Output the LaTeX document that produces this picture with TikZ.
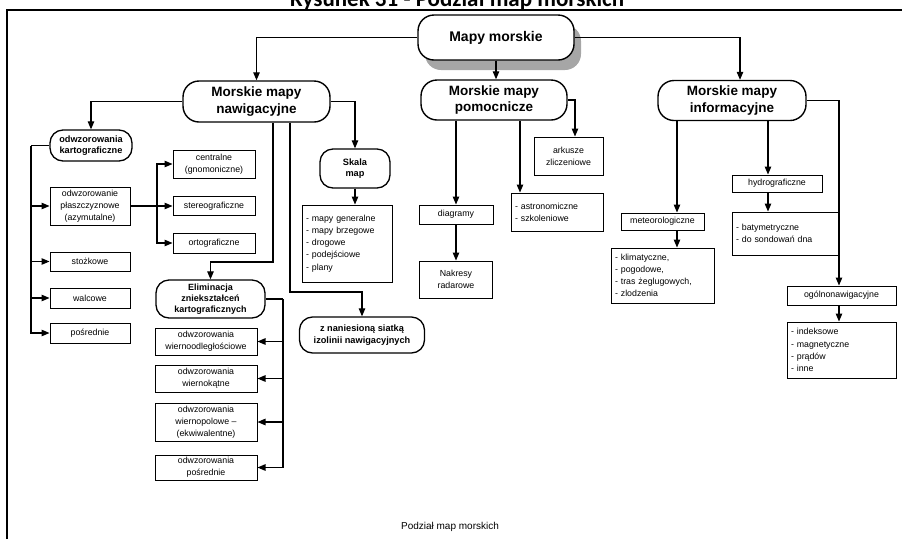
\documentclass[tikz,border=0pt]{standalone}
\usepackage{fontspec}
\setmainfont{Liberation Sans}
\newfontfamily\titlefont{Carlito}
\usetikzlibrary{arrows.meta,shadows}
\tikzset{
  box/.style 2 args={draw, line width=1pt, minimum width=#1, minimum height=#2, inner sep=1pt, align=center, font=\fontsize{8.8}{12}\selectfont},
  lbox/.style 2 args={draw, line width=1pt, text width=#1, minimum height=#2, inner xsep=4pt, inner ysep=1pt, align=left, font=\fontsize{8.8}{12.2}\selectfont},
  rbox/.style 2 args={draw, line width=1.3pt, rounded corners=13pt, minimum width=#1, minimum height=#2, inner sep=1pt, align=center, font=\bfseries\fontsize{9.2}{11.5}\selectfont},
  mainbox/.style 2 args={draw, fill=white, line width=1.4pt, rounded corners=16pt, minimum width=#1, minimum height=#2, inner sep=1pt, align=center, font=\bfseries\fontsize{13.5}{16.5}\selectfont},
  arr/.style={line width=1.1pt, -{Triangle[length=8pt,width=6.5pt]}},
  con/.style={line width=1.1pt},
}
\begin{document}
\begin{tikzpicture}[x=1pt, y=-1pt]
\useasboundingbox (0,0) rectangle (902,539);
\node[anchor=base, font=\titlefont\bfseries\fontsize{23}{26}\selectfont] (title) at (457,6){Rysunek 31 - Podział map morskich};
\draw[line width=2pt] (7,539) -- (7,10) -- (902,10);
\node[mainbox={156}{45}, font=\bfseries\fontsize{14}{17}\selectfont, drop shadow={shadow xshift=7pt, shadow yshift=-10pt, fill=gray!70, opacity=1}] (mapy) at (496,37.5){Mapy morskie};
\node[mainbox={147}{41}] (naw) at (256.5,101.5){Morskie mapy\\nawigacyjne};
\node[mainbox={146}{40}] (pom) at (494,100){Morskie mapy\\pomocnicze};
\node[mainbox={148}{40}] (inf) at (732,100.5){Morskie mapy\\informacyjne};
\draw[arr](mapy.west) -| (naw.north);
\draw[arr](mapy.south) -- (mapy.south |- pom.north);
\draw[arr](mapy.east) -| ([xshift=8pt]inf.north);

\node[rbox={82}{31}] (kart) at (91,145.5){odwzorowania\\kartograficzne};
\node[box={80}{38}] (plasz) at (90,206){odwzorowanie\\płaszczyznowe\\(azymutalne)};
\node[box={80}{19}] (stoz) at (90,261.5){stożkowe};
\node[box={80}{20}] (walc) at (90,298){walcowe};
\node[box={80}{20}] (posr) at (90,333){pośrednie};
\draw[arr](naw.west) -| (kart.north);
\coordinate (kb) at (31,145.5);
\draw[con](kart.west) -- (kb);
\draw[arr](kb) |- (posr.west);
\foreach \n in {plasz,stoz,walc}
  \draw[arr](kb |- \n.west) -- (\n.west);

\node[box={82}{28}] (cent) at (214,164){centralne\\(gnomoniczne)};
\node[box={82}{19}] (ster) at (214,206){stereograficzne};
\node[box={82}{20}] (orto) at (214,243){ortograficzne};
\coordinate (pb) at (157,206);
\draw[con](plasz.east) -- (pb);
\draw[arr](pb) |- (cent.west);
\draw[arr](pb) -- (ster.west);
\draw[arr](pb) |- (orto.west);

\node[rbox={109}{38}, font=\bfseries\fontsize{9}{11}\selectfont] (elim) at (210.5,299){Eliminacja\\zniekształceń\\kartograficznych};
\coordinate (e1) at (273,262);
\draw[arr](naw.south -| e1) -- (e1) -| (elim.north);
\node[box={102}{27}] (wodl) at (206,341.5){odwzorowania\\wiernoodległościowe};
\node[box={102}{27}] (wkat) at (206,378.5){odwzorowania\\wiernokątne};
\node[box={102}{38}] (wpol) at (206,422){odwzorowania\\wiernopolowe –\\(ekwiwalentne)};
\node[box={102}{25}] (wpos) at (206,467.5){odwzorowania\\pośrednie};
\coordinate (eb) at (283,299);
\draw[con](elim.east) -- (eb);
\draw[arr](eb) |- (wpos.east);
\foreach \n in {wodl,wkat,wpol}
  \draw[arr](eb |- \n.east) -- (\n.east);

\node[rbox={70}{39}] (skala) at (355,168.5){Skala\\map};
\node[lbox={82}{77}] (slist) at (347,243.5){- mapy generalne\\- mapy brzegowe\\- drogowe\\- podejściowe\\- plany};
\draw[arr](naw.east) -| (skala.north);
\draw[arr](skala.south) -- (skala.south |- slist.north);
\node[rbox={125}{36}] (zsiat) at (362,335){z naniesioną siatką\\izolinii nawigacyjnych};
\coordinate (z1) at (290,292);
\draw[arr](naw.south -| z1) -- (z1) -| (zsiat.north);

\node[box={69}{38}] (ark) at (568.5,156){arkusze\\zliczeniowe};
\node[lbox={84}{38}] (astro) at (557,212){- astronomiczne\\- szkoleniowe};
\node[box={74}{19}] (diag) at (456,214.5){diagramy};
\node[box={73}{37}] (nakr) at (456,279.5){Nakresy\\radarowe};
\coordinate (a1) at (575,100);
\coordinate (p2) at (520,200);
\draw[arr](pom.east) -- (pom.east -| a1) -- (a1 |- ark.north);
\draw[arr](pom.south -| p2) -- (p2 |- astro.north);
\draw[arr](pom.south -| diag.north) -- (diag.north);
\draw[arr](diag.south) -- (nakr.north);

\node[box={83}{17}] (meteo) at (662.5,221.5){meteorologiczne};
\node[lbox={95}{55}] (mlist) at (662.5,275.5){- klimatyczne,\\- pogodowe,\\- tras żeglugowych,\\- zlodzenia};
\node[box={90}{17}] (hydro) at (777,183.5){hydrograficzne};
\node[lbox={98}{43}] (hlist) at (785,233.5){- batymetryczne\\- do sondowań dna};
\node[box={109}{19}] (ogol) at (841.5,295.5){ogólnonawigacyjne};
\node[lbox={101}{56}] (olist) at (841.5,350){- indeksowe\\- magnetyczne\\- prądów\\- inne};
\coordinate (i1) at (677,200);
\coordinate (i2) at (768,200);
\coordinate (i3) at (839,200);
\draw[arr](inf.south -| i1) -- (i1 |- meteo.north);
\draw[arr](meteo.south -| i1) -- (i1 |- mlist.north);
\draw[arr](inf.south -| i2) -- (i2 |- hydro.north);
\draw[arr](hydro.south -| i2) -- (i2 |- hlist.north);
\draw[arr](inf.east) -- (inf.east -| i3) -- (i3 |- ogol.north);
\draw[arr](ogol.south -| i3) -- (i3 |- olist.north);

\node[font=\fontsize{10}{12}\selectfont] (capt) at (450,527){Podział map morskich};
\end{tikzpicture}
\end{document}
